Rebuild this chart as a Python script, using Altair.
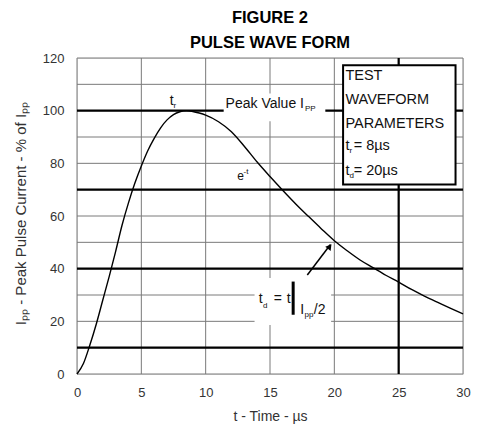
import altair as alt
import pandas as pd

FONT = "Liberation Sans, Arial, sans-serif"

# ---- data ----
time_us = [0, 0.5, 1, 1.5, 2, 2.5, 3, 3.5, 4, 4.5, 5, 5.5, 6, 6.5, 7, 7.5, 8, 8.5, 9, 9.5, 10,
           11, 12, 13, 14, 15, 16, 17, 18, 19, 20, 21, 22, 23, 24, 25, 26, 27, 28, 29, 30]
pulse_pct = [0, 4, 11, 19, 28, 37, 46.5, 56.5, 65, 72.5, 79, 84.8, 89.5, 93.5, 96.5, 98.5, 99.6, 100, 99.7, 99.1, 98.3,
             95.8, 92, 86.5, 80.5, 75, 69.7, 64.6, 59.8, 55.1, 50.6, 46.8, 43.3, 40.4, 37.5, 34.9, 32.1, 29.6, 27.3, 25.0, 22.8]

x_ticks = [0, 5, 10, 15, 20, 25, 30]
y_ticks = [0, 20, 40, 60, 80, 100, 120]
h_thin = [0, 10, 20, 30, 40, 50, 60, 70, 80, 90, 100, 110, 120]
v_thin = [0, 5, 10, 15, 20, 25, 30]
h_thick = [10, 40, 70, 100]
v_thick = [25]

# white masks behind labels: t1, t2, v1, v2
mask_t1 = [11.4, 13.8]
mask_t2 = [19.3, 19.75]
mask_v1 = [96.0, 18.6]
mask_v2 = [106.5, 36.5]

# parameter box
box_t1 = [20.68]
box_t2 = [29.42]
box_v1 = [72.0]
box_v2 = [117.2]

# left aligned text pieces
txt_text = ["t", "r", "e", "-t", "PP",
            "t", "d", "=", "t", "I", "pp", "/2",
            "TEST", "WAVEFORM", "PARAMETERS", "t", "r", "= 8µs", "t", "d", "= 20µs"]
txt_t = [7.2, 7.5, 12.45, 12.95, 17.72,
         14.12, 14.45, 15.29, 16.3, 17.36, 17.68, 18.4,
         20.86, 20.86, 20.86, 20.86, 21.17, 21.5, 20.86, 21.17, 21.5]
txt_v = [102.1, 101.0, 73.7, 76.0, 100.0,
         26.9, 25.0, 26.9, 26.9, 22.9, 21.6, 22.6,
         111.8, 102.7, 93.6, 85.0, 83.9, 85.0, 75.4, 74.3, 75.4]
txt_size = [14, 8, 12, 8, 8,
            14, 8, 14, 14, 14, 8, 14,
            14.5, 14.5, 14.5, 14.5, 8, 14.5, 14.5, 8, 14.5]

# right aligned text
rtxt_text = ["Peak Value I"]
rtxt_t = [17.64]
rtxt_v = [101.2]

# bar in t_d annotation
bar_t = [16.8]
bar_v1 = [22.5]
bar_v2 = [35.1]

# arrow
arrow_t1 = [17.9]
arrow_v1 = [37.6]
arrow_t2 = [19.7]
arrow_v2 = [49.2]
head_t = [19.64]
head_v = [48.4]

# ---- frames ----
curve_df = pd.DataFrame({"t": time_us, "v": pulse_pct})
hthin_df = pd.DataFrame({"v": h_thin})
vthin_df = pd.DataFrame({"t": v_thin})
hthick_df = pd.DataFrame({"v": h_thick})
vthick_df = pd.DataFrame({"t": v_thick})
mask_df = pd.DataFrame({"t": mask_t1, "t2": mask_t2, "v": mask_v1, "v2": mask_v2})
box_df = pd.DataFrame({"t": box_t1, "t2": box_t2, "v": box_v1, "v2": box_v2})
txt_df = pd.DataFrame({"text": txt_text, "t": txt_t, "v": txt_v, "size": txt_size})
rtxt_df = pd.DataFrame({"text": rtxt_text, "t": rtxt_t, "v": rtxt_v})
bar_df = pd.DataFrame({"t": bar_t, "v": bar_v1, "v2": bar_v2})
arrow_df = pd.DataFrame({"t": arrow_t1, "v": arrow_v1, "t2": arrow_t2, "v2": arrow_v2})
head_df = pd.DataFrame({"t": head_t, "v": head_v})

xs = alt.Scale(domain=[0, 30], nice=False, zero=False)
ys = alt.Scale(domain=[0, 120], nice=False, zero=False)

AX = alt.Axis(
    values=x_ticks, title="t - Time - µs", domain=False, ticks=False, grid=False,
    labelPadding=12, labelFlush=False, labelOverlap=False,
    labelFont=FONT, labelFontSize=13, labelColor="#333333",
    titleFont=FONT, titleFontSize=14, titleFontWeight="normal", titleColor="#333333",
    titleX=193, titleY=42, titleBaseline="middle", titleAlign="center")
AY = alt.Axis(
    values=y_ticks, title="Iₚₚ - Peak Pulse Current - % of Iₚₚ", domain=False, ticks=False, grid=False,
    labelPadding=13, labelFlush=False, labelOverlap=False,
    labelFont=FONT, labelFontSize=13, labelColor="#333333",
    titleFont=FONT, titleFontSize=15, titleFontWeight="normal", titleColor="#333333",
    titleX=-57, titleY=155, titleAngle=270, titleBaseline="middle", titleAlign="center")

X = alt.X("t:Q", scale=xs, axis=AX)
Y = alt.Y("v:Q", scale=ys, axis=AY)

hthin = alt.Chart(hthin_df).mark_rule(color="#7a7a7a", strokeWidth=1).encode(y=Y)
vthin = alt.Chart(vthin_df).mark_rule(color="#7a7a7a", strokeWidth=1).encode(x=X)
hthick = alt.Chart(hthick_df).mark_rule(color="#000000", strokeWidth=2.2).encode(y=Y)
vthick = alt.Chart(vthick_df).mark_rule(color="#000000", strokeWidth=2.2).encode(x=X)

masks = alt.Chart(mask_df).mark_rect(color="white").encode(x=X, x2="t2", y=Y, y2="v2")

curve = alt.Chart(curve_df).mark_line(color="black", strokeWidth=1.4, interpolate="monotone").encode(x=X, y=Y)

box = alt.Chart(box_df).mark_rect(fill="white", stroke="black", strokeWidth=2).encode(x=X, x2="t2", y=Y, y2="v2")

texts = alt.Chart(txt_df).mark_text(align="left", baseline="alphabetic", font=FONT, color="#111111").encode(
    x=X, y=Y, text="text:N", size=alt.Size("size:Q", scale=None, legend=None))

rtexts = alt.Chart(rtxt_df).mark_text(align="right", baseline="alphabetic", font=FONT, fontSize=14,
                                      color="#111111").encode(x=X, y=Y, text="text:N")

bar = alt.Chart(bar_df).mark_rule(color="black", strokeWidth=3).encode(x=X, y=Y, y2="v2")

arrow = alt.Chart(arrow_df).mark_rule(color="black", strokeWidth=1.5).encode(x=X, x2="t2", y=Y, y2="v2")

head = alt.Chart(head_df).mark_point(shape="triangle-up", filled=True, color="black", size=45,
                                     angle=37, opacity=1).encode(x=X, y=Y)

chart = alt.layer(
    hthin, vthin, hthick, vthick, masks, curve, box, texts, rtexts, bar, arrow, head
).properties(
    width=386, height=316,
    autosize=alt.AutoSizeParams(type="none"),
    padding={"left": 69, "top": 50, "right": 10, "bottom": 50},
    title=alt.TitleParams(text=["FIGURE 2", "PULSE WAVE FORM"], font=FONT, fontSize=16.5, fontWeight="bold",
                          lineHeight=25, anchor="middle", frame="group", baseline="bottom", offset=-15,
                          color="black"),
).configure_view(stroke=None).configure(background="white")

chart.save("out.html", embed_options={"renderer": "svg", "actions": False})
